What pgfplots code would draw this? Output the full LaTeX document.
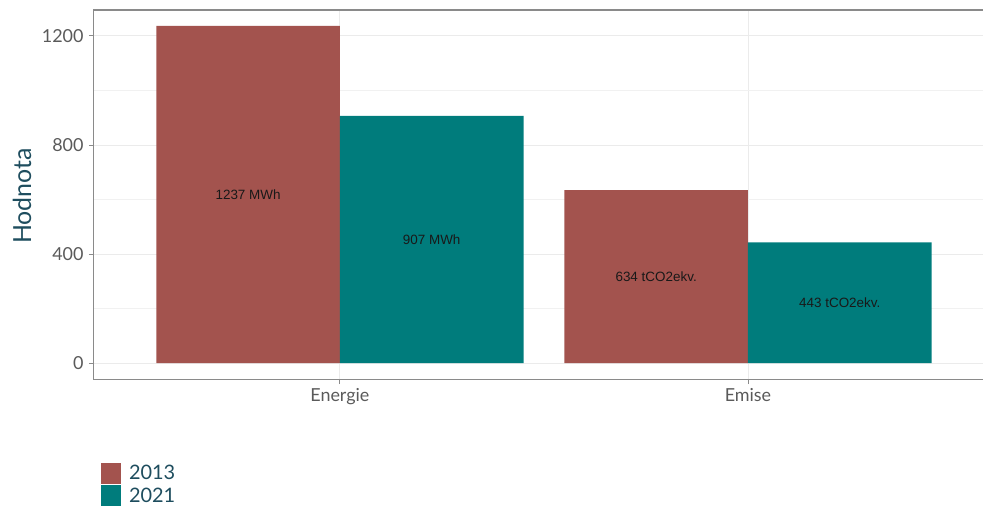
\documentclass[border=0pt]{standalone}
\usepackage{pgfplots}
\pgfplotsset{compat=1.18}
\usepackage{fontspec}
\setmainfont{Lato}
\newfontfamily\labelfont{Liberation Sans}
\definecolor{c2013}{HTML}{A3534E}
\definecolor{c2021}{HTML}{007C7C}
\definecolor{titleblue}{HTML}{1E4D5E}
\definecolor{tickgray}{HTML}{5A5A5A}
\definecolor{gridgray}{HTML}{EBEBEB}
\definecolor{framegray}{HTML}{8A8A8A}

\begin{document}
\begin{tikzpicture}
\useasboundingbox (0bp,0bp) rectangle (983bp,506bp);
\begin{axis}[
  at={(93bp,126bp)}, anchor=south west,
  scale only axis, width=890bp, height=370bp,
  xmin=0.395, xmax=2.576, ymin=-62, ymax=1295,
  xtick={1,2}, xticklabels={Energie,Emise},
  ytick={0,400,800,1200},
  minor ytick={200,600,1000},
  xtick pos=bottom, ytick pos=left,
  tick align=outside, major tick length=4bp, minor tick length=0pt,
  every tick/.style={framegray, line width=0.8bp},
  xmajorgrids, ymajorgrids, yminorgrids,
  major grid style={gridgray, line width=0.9bp},
  minor grid style={gridgray!70, line width=0.7bp},
  axis line style={draw=none},
  /pgf/number format/assume math mode=true,
  /pgf/number format/1000 sep={},
  ticklabel style={font=\fontsize{18}{20}\selectfont, text=tickgray},
  yticklabel style={xshift=-2bp},
  xticklabel style={yshift=-1bp},
  legend style={draw=none, fill=none, inner sep=0pt, outer sep=0pt,
    at={(axis description cs:0.009,-0.224)}, anchor=north west,
    font=\fontsize{20}{22}\selectfont, text=titleblue,
    row sep=1.5bp, column sep=2bp,
    nodes={inner sep=1bp}},
  legend cell align=left,
  legend image code/.code={\fill[#1] (0bp,-10.5bp) rectangle (20bp,10.5bp);},
  legend entries={\hspace{5bp}2013, \hspace{5bp}2021},
]
% energy and emissions, 2013 vs 2021
\addplot[fill=c2013, draw=none, ybar, bar width=0.45, bar shift=-0.225]
  coordinates {(1,1237) (2,634)};
\addplot[fill=c2021, draw=none, ybar, bar width=0.45, bar shift=0.225]
  coordinates {(1,907) (2,443)};

\draw[framegray, line width=1.5bp]
  (rel axis cs:1,1) -- (rel axis cs:0,1) -- (rel axis cs:0,0) -- (rel axis cs:1,0);

% value labels at half bar height
\begin{scope}[every node/.style={font=\labelfont\fontsize{13.5}{15}\selectfont, text=black!90}]
\node at (axis cs:0.775,618.5) {1237 MWh};
\node at (axis cs:1.225,453.5) {907 MWh};
\node at (axis cs:1.775,317) {634 tCO2ekv.};
\node at (axis cs:2.225,221.5) {443 tCO2ekv.};
\end{scope}
\end{axis}
\node[rotate=90, text=titleblue, font=\fontsize{25}{27}\selectfont] at (22bp,310bp) {Hodnota};
\end{tikzpicture}
\end{document}
